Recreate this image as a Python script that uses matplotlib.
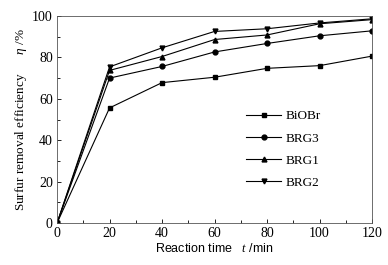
import matplotlib
matplotlib.use("Agg")
import matplotlib.pyplot as plt
from matplotlib.ticker import MultipleLocator

time = [0, 20, 40, 60, 80, 100, 120]
biobr = [0, 55.6, 67.8, 70.4, 74.7, 76.0, 80.6]
brg3 = [0, 70.0, 75.6, 82.6, 86.7, 90.4, 92.8]
brg1 = [0, 73.7, 80.4, 88.6, 90.8, 96.2, 98.2]
brg2 = [0, 75.4, 84.6, 92.5, 93.8, 96.6, 98.6]

series = [("BiOBr", biobr, "s"), ("BRG3", brg3, "o"), ("BRG1", brg1, "^"), ("BRG2", brg2, "v")]

plt.rcParams['font.family'] = ['Liberation Serif']
plt.rcParams['mathtext.fontset'] = 'custom'
plt.rcParams['mathtext.it'] = 'Liberation Serif:italic'
plt.rcParams['mathtext.rm'] = 'Liberation Serif'

fig = plt.figure(figsize=(3.88, 2.65), dpi=100)
ax = fig.add_axes([0.147, 0.158, 0.812, 0.782])
for name, vals, m in series:
    ax.plot(time, vals, color='black', lw=0.8, marker=m, ms=3.5, label=name)

ax.set_xlim(0, 120)
ax.set_ylim(0, 100)
ax.xaxis.set_major_locator(MultipleLocator(20))
ax.xaxis.set_minor_locator(MultipleLocator(10))
ax.yaxis.set_major_locator(MultipleLocator(20))
ax.yaxis.set_minor_locator(MultipleLocator(10))
ax.tick_params(which='both', direction='in', labelsize=10, width=0.6)
ax.tick_params(which='major', length=3, pad=3)
ax.tick_params(which='minor', length=2)
for s in ax.spines.values():
    s.set_linewidth(0.6)
    s.set_color('#555555')

ax.set_xlabel("Reaction time   $\\it{t}$ /min", fontsize=9, family=['Liberation Sans'], labelpad=1)
ax.set_ylabel("Surfur removal efficiency      $\\it{\\eta}$ /%", fontsize=9.5, labelpad=2)

ax.legend(loc='center', bbox_to_anchor=(0.72, 0.355), frameon=False, fontsize=9.5,
          handlelength=2.6, labelspacing=0.75, handletextpad=0.4)

fig.savefig("out.png", dpi=100)
